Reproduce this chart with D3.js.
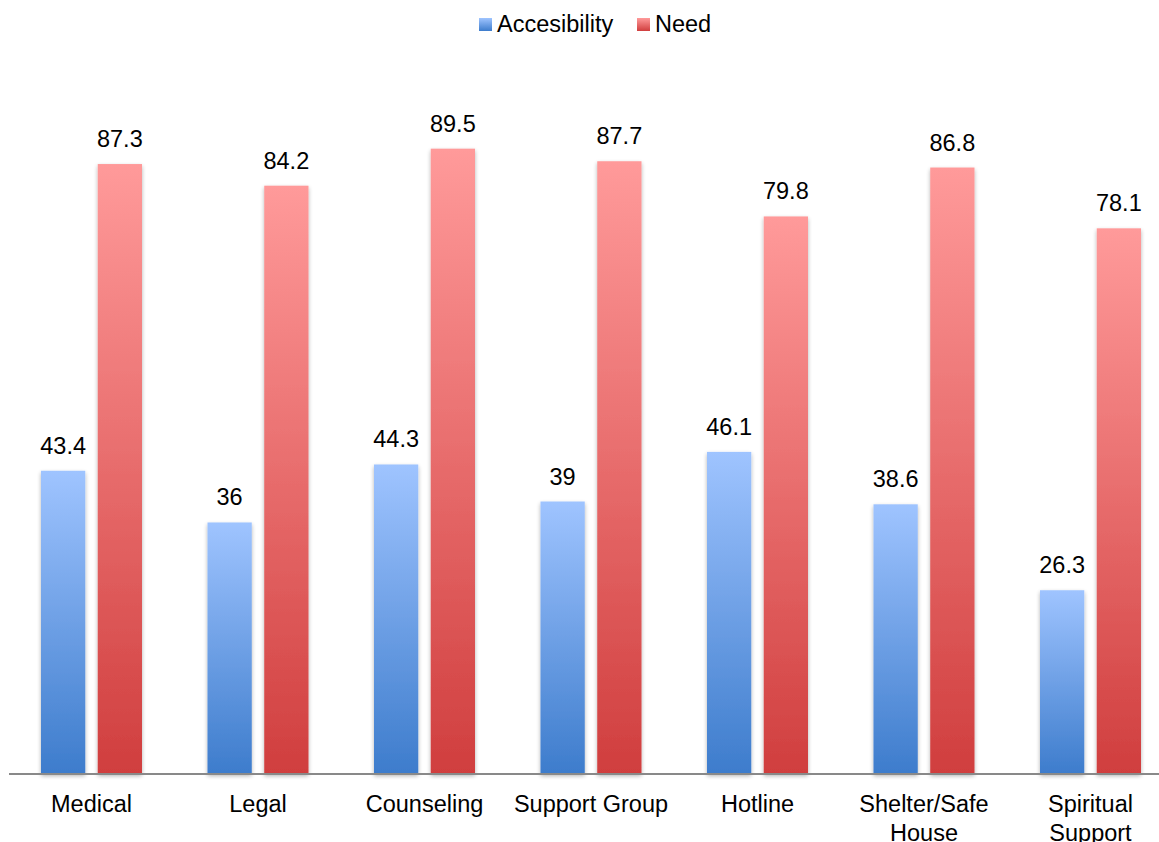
<!DOCTYPE html>
<html><head><meta charset="utf-8">
<script src="https://cdn.jsdelivr.net/npm/d3@7"></script>
<style>body{margin:0;background:#fff;}svg{display:block;font-family:"Liberation Sans",Arial,sans-serif;}</style>
</head><body>
<svg id="chart" width="1159" height="842"></svg>
<script>
const categories = [["Medical"],["Legal"],["Counseling"],["Support Group"],["Hotline"],["Shelter/Safe","House"],["Spiritual","Support"]];
const accessibility = [43.4, 36, 44.3, 39, 46.1, 38.6, 26.3];
const need = [87.3, 84.2, 89.5, 87.7, 79.8, 86.8, 78.1];
const seriesNames = ["Accesibility", "Need"];

const svg = d3.select("#chart");
const defs = svg.append("defs");
function grad(id, top, bottom){
  const g = defs.append("linearGradient").attr("id", id).attr("x1",0).attr("y1",0).attr("x2",0).attr("y2",1);
  g.append("stop").attr("offset","0%").attr("stop-color",top);
  g.append("stop").attr("offset","100%").attr("stop-color",bottom);
}
grad("gBlue", "#9fc4ff", "#3d7ccc");
grad("gRed", "#ff9a9a", "#d03e3e");
const f = defs.append("filter").attr("id","shadow").attr("x","-20%").attr("y","-5%").attr("width","140%").attr("height","115%");
f.append("feGaussianBlur").attr("in","SourceAlpha").attr("stdDeviation",2);
f.append("feOffset").attr("dx",0).attr("dy",2).attr("result","b");
f.append("feComponentTransfer").append("feFuncA").attr("type","linear").attr("slope",0.3);
const m = f.append("feMerge"); m.append("feMergeNode"); m.append("feMergeNode").attr("in","SourceGraphic");

const FS = 23.5;
const x = d3.scaleBand().domain(d3.range(categories.length)).range([8.25, 1173.75]).paddingInner(0).paddingOuter(0);
const x1 = d3.scaleBand().domain([0,1]).range([0, 101]).paddingInner(0.22).paddingOuter(0);
const y = d3.scaleLinear().domain([0, 100]).range([774, 75.3]);

const data = categories.map((c,i)=>({i, vals:[accessibility[i], need[i]]}));
const fills = ["url(#gBlue)", "url(#gRed)"];

const groups = svg.append("g").selectAll("g").data(data).join("g")
  .attr("transform", d => `translate(${x(d.i) + x.bandwidth()/2 - 50.5},0)`);
groups.selectAll("rect").data(d => d.vals.map((v,s)=>({v,s}))).join("rect")
  .attr("x", d => x1(d.s)).attr("width", x1.bandwidth())
  .attr("y", d => y(d.v)).attr("height", d => y(0) - y(d.v))
  .attr("fill", d => fills[d.s]).attr("filter","url(#shadow)");
groups.selectAll("text").data(d => d.vals.map((v,s)=>({v,s}))).join("text")
  .attr("x", d => x1(d.s) + x1.bandwidth()/2).attr("y", d => y(d.v) - 17)
  .attr("text-anchor","middle").attr("font-size",FS).attr("fill","#000")
  .text(d => d.v);

// axis
const axis = d3.axisBottom(x).tickSize(0).tickFormat("");
const ag = svg.append("g").attr("transform","translate(0,774)").call(axis);
ag.select(".domain").remove();
ag.append("line").attr("x1",9).attr("x2",1159).attr("y1",0).attr("y2",0).attr("stroke","#898989").attr("stroke-width",2);
ag.selectAll(".tick").each(function(d){
  const t = d3.select(this).append("text").attr("text-anchor","middle").attr("font-size",FS).attr("fill","#000");
  categories[d].forEach((line,k)=> t.append("tspan").attr("x",0).attr("y", 38 + k*29).text(line));
});

// legend
const legend = svg.append("g");
const lx = [479, 637];
seriesNames.forEach((n,s)=>{
  legend.append("rect").attr("x", lx[s]).attr("y", 18).attr("width", 13).attr("height", 13).attr("fill", fills[s]);
  legend.append("text").attr("x", lx[s] + 18).attr("y", 32).attr("font-size", FS).attr("fill","#000").text(n);
});
</script>
</body></html>
